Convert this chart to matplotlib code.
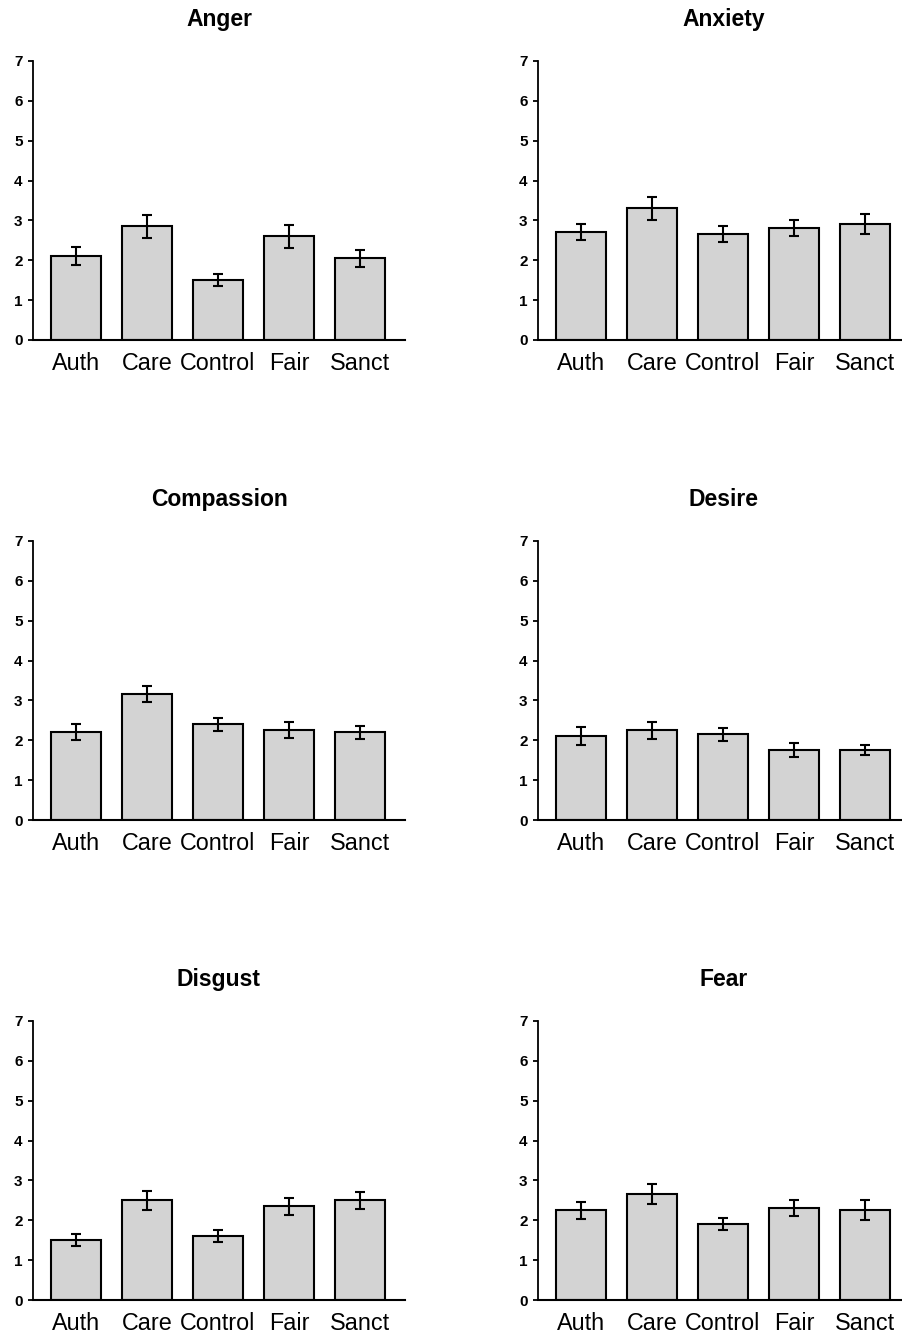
import numpy as np
import matplotlib
matplotlib.use('Agg')
import matplotlib.pyplot as plt

plt.rcParams['font.family'] = ['Liberation Sans', 'DejaVu Sans']

conditions = ['Auth', 'Care', 'Control', 'Fair', 'Sanct']
emotions = ['Anger', 'Anxiety', 'Compassion', 'Desire', 'Disgust', 'Fear']

# mean ratings and standard errors per emotion
anger = [2.1, 2.85, 1.5, 2.6, 2.05]
anger_se = [0.23, 0.28, 0.15, 0.28, 0.22]
anxiety = [2.7, 3.3, 2.65, 2.8, 2.9]
anxiety_se = [0.2, 0.28, 0.2, 0.2, 0.25]
compassion = [2.2, 3.15, 2.4, 2.25, 2.2]
compassion_se = [0.2, 0.2, 0.17, 0.2, 0.17]
desire = [2.1, 2.25, 2.15, 1.75, 1.75]
desire_se = [0.23, 0.22, 0.17, 0.17, 0.12]
disgust = [1.5, 2.5, 1.6, 2.35, 2.5]
disgust_se = [0.15, 0.23, 0.15, 0.22, 0.22]
fear = [2.25, 2.65, 1.9, 2.3, 2.25]
fear_se = [0.22, 0.25, 0.15, 0.2, 0.25]

means = [anger, anxiety, compassion, desire, disgust, fear]
errors = [anger_se, anxiety_se, compassion_se, desire_se, disgust_se, fear_se]

W, H = 902, 1337
fig = plt.figure(figsize=(W / 100, H / 100), dpi=100)

col_left = [33, 538]
row_bottom = [340, 820, 1300]
ax_w, ax_h = 372, 279

x = np.arange(len(conditions))
for i, emo in enumerate(emotions):
    r, c = divmod(i, 2)
    ax = fig.add_axes([col_left[c] / W, 1 - row_bottom[r] / H, ax_w / W, ax_h / H])
    ax.bar(x, means[i], width=0.7, color='#d3d3d3', edgecolor='black', linewidth=1.5, zorder=2)
    ax.errorbar(x, means[i], yerr=errors[i], fmt='none', ecolor='black',
                elinewidth=1.5, capsize=3.8, capthick=1.5, zorder=3)
    ax.set_xlim(-0.6, 4.63)
    ax.set_ylim(0, 7)
    ax.set_yticks(range(8))
    ax.set_xticks(x)
    ax.set_xticklabels(conditions, fontsize=16.8)
    for lab in ax.get_yticklabels():
        lab.set_fontweight('bold')
        lab.set_fontsize(11)
    ax.tick_params(axis='x', length=0, pad=9)
    ax.tick_params(axis='y', length=3.5, width=1.3, pad=4)
    ax.spines['top'].set_visible(False)
    ax.spines['right'].set_visible(False)
    ax.spines['left'].set_linewidth(1.3)
    ax.spines['bottom'].set_linewidth(1.5)
    ax.set_title(emo, fontsize=16.5, fontweight='bold', pad=25)

fig.savefig('out.png', dpi=100)
